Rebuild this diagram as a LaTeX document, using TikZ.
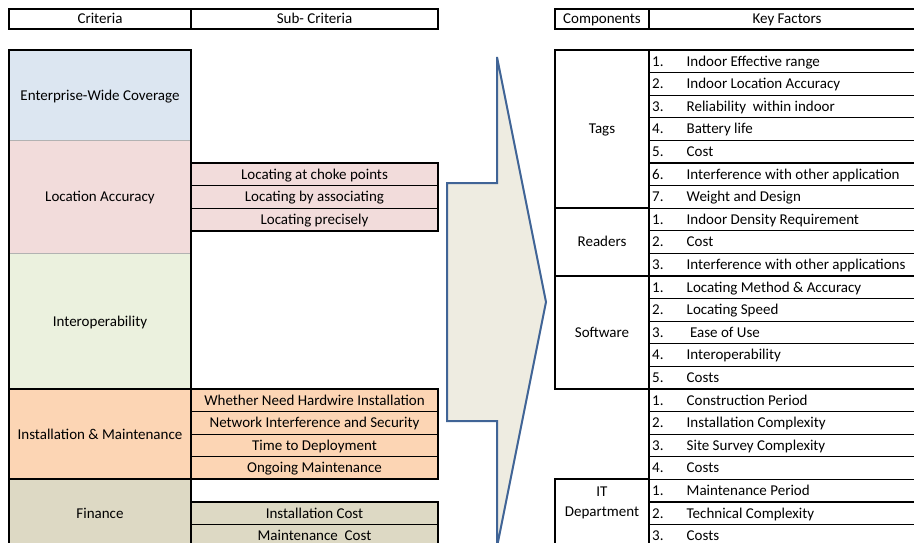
\documentclass[tikz,border=0pt]{standalone}
\usepackage{fontspec}
\setmainfont{Carlito}
\definecolor{covblue}{HTML}{DCE6F1}
\definecolor{accpink}{HTML}{F2DCDB}
\definecolor{intgreen}{HTML}{EBF1DE}
\definecolor{instpeach}{HTML}{FCD5B4}
\definecolor{fintan}{HTML}{DDD9C4}
\definecolor{arrowfill}{HTML}{EEECE1}
\definecolor{arrowblue}{RGB}{64,100,150}
\begin{document}
\begin{tikzpicture}[x=1pt,y=-1pt,
    lbl/.style={inner sep=0pt,font=\fontsize{15}{18}\selectfont,text height=9.7pt,text depth=0pt},
    rim/.style={line width=2pt},
    grid/.style={line width=1.2pt}]
        \useasboundingbox (0,0) rectangle (914,543);
        % headers
        \draw[rim] (9,9) rectangle (438,29);
        \draw[rim] (191,9) -- (191,29);
        \node[lbl] (hcrit) at (100,19) {Criteria};
        \node[lbl] (hsub) at (314.5,19) {Sub- Criteria};
        \draw[rim] (930,9) -- (555,9) -- (555,29) -- (930,29);
        \draw[rim] (649,9) -- (649,29);
        \node[lbl] (hcomp) at (602,19) {Components};
        \node[lbl] (hkey) at (787,19) {Key Factors};
        % criteria column
        \fill[covblue] (9,50) rectangle (191,140.4);
        \fill[accpink] (9,140.4) rectangle (191,253.4);
        \fill[intgreen] (9,253.4) rectangle (191,389);
        \fill[instpeach] (9,389) rectangle (191,479.4);
        \fill[fintan] (9,479.4) rectangle (191,570);
        \draw[gray!60,line width=1pt] (9,140.4) -- (191,140.4) (9,253.4) -- (191,253.4);
        \draw[rim] (9,389) -- (191,389) (9,479.4) -- (191,479.4);
        \draw[rim] (9,570) -- (9,50) -- (191,50) -- (191,570);
        \node[lbl] (cov) at (100,95.2) {Enterprise-Wide Coverage};
        \node[lbl] (acc) at (100,196.9) {Location Accuracy};
        \node[lbl] (interop) at (100,321.2) {Interoperability};
        \node[lbl] (inst) at (100,434.2) {Installation \& Maintenance};
        \node[lbl] (fin) at (100,513.3) {Finance};
        % sub-criteria
        \draw[rim,fill=accpink] (191,163) rectangle (438,230.8);
        \draw[grid] (191,185.6) -- (438,185.6) (191,208.2) -- (438,208.2);
        \node[lbl] (choke) at (314.5,174.3) {Locating at choke points};
        \node[lbl] (assoc) at (314.5,196.9) {Locating by associating};
        \node[lbl] (precise) at (314.5,219.5) {Locating precisely};
        \draw[rim,fill=instpeach] (191,389) rectangle (438,479.4);
        \draw[grid] (191,411.6) -- (438,411.6) (191,434.2) -- (438,434.2) (191,456.8) -- (438,456.8);
        \node[lbl] (hardwire) at (314.5,400.3) {Whether Need Hardwire Installation};
        \node[lbl] (netsec) at (314.5,422.9) {Network Interference and Security};
        \node[lbl] (deploy) at (314.5,445.5) {Time to Deployment};
        \node[lbl] (ongoing) at (314.5,468.1) {Ongoing Maintenance};
        \draw[rim,fill=fintan] (191,502) rectangle (438,570);
        \draw[grid] (191,524.6) -- (438,524.6);
        \node[lbl] (instcost) at (314.5,513.3) {Installation Cost};
        \node[lbl] (maincost) at (314.5,535.9) {Maintenance\ \ Cost};
        % arrow
        \draw[arrowblue,line width=2pt,fill=arrowfill,line join=miter]
            (447,183) -- (497,183) -- (497,57) -- (546,302) -- (497,547) -- (497,421) -- (447,421) -- cycle;
        % components
        \draw[rim] (649,50) -- (555,50) -- (555,388.8) -- (649,388.8);
        \draw[rim] (555,208.2) -- (649,208.2) (555,275.9) -- (649,275.9);
        \draw[rim] (649,479.4) -- (555,479.4) -- (555,570);
        \draw[rim] (649,50) -- (649,570) (649,50) -- (930,50);
        \node[lbl] (tags) at (602,129.1) {Tags};
        \node[lbl] (readers) at (602,242) {Readers};
        \node[lbl] (software) at (602,332.3) {Software};
        \node[inner sep=0pt,font=\fontsize{15}{20}\selectfont,align=center] (itdep) at (602,503) {IT\\Department};
        % key factors
        \foreach \k in {1,...,21}
            \draw[grid] (649,{50+22.6*\k}) -- (930,{50+22.6*\k});
        \foreach \k/\n/\t in {0/1./Indoor Effective range,1/2./Indoor Location Accuracy,
                2/3./Reliability\ \ within indoor,3/4./Battery life,4/5./Cost,
                5/6./Interference with other application,6/7./Weight and Design,
                7/1./Indoor Density Requirement,8/2./Cost,9/3./Interference with other applications,
                10/1./Locating Method \& Accuracy,11/2./Locating Speed,12/3./\ Ease of Use,
                13/4./Interoperability,14/5./Costs,
                15/1./Construction Period,16/2./Installation Complexity,17/3./Site Survey Complexity,18/4./Costs,
                19/1./Maintenance Period,20/2./Technical Complexity,21/3./Costs} {
            \node[lbl,anchor=west] (kn\k) at (652,{61.3+22.6*\k}) {\n};
            \node[lbl,anchor=west] (kt\k) at (686.5,{61.3+22.6*\k}) {\t};
        }
    \end{tikzpicture}
\end{document}
